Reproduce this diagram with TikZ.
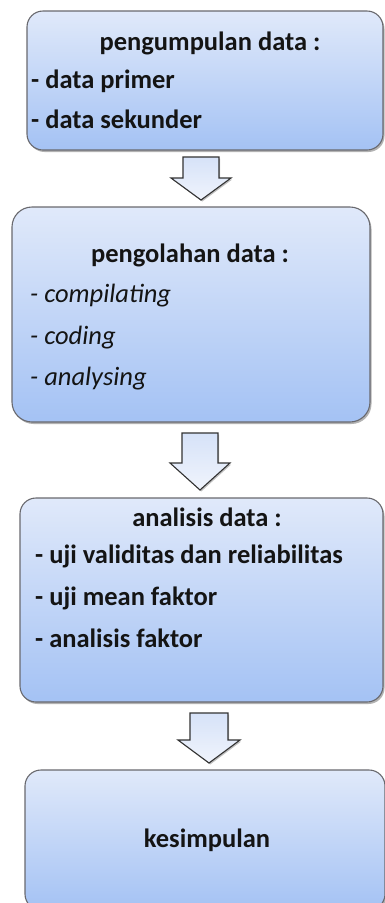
\documentclass[tikz,border=0pt]{standalone}
\usepackage{fontspec}
\setmainfont{Carlito}
\usetikzlibrary{shadows,calc}
\definecolor{boxtop}{RGB}{224,233,250}
\definecolor{boxbot}{RGB}{164,194,244}
\definecolor{boxline}{RGB}{105,105,110}
\definecolor{arrtop}{RGB}{214,226,248}
\definecolor{arrbot}{RGB}{240,244,252}
\definecolor{txt}{RGB}{20,20,20}
\tikzset{
  box/.style={rectangle, rounded corners=16pt, draw=boxline, line width=1.1pt,
    top color=boxtop, bottom color=boxbot, inner sep=0pt, outer sep=0pt,
    drop shadow={shadow xshift=1.5pt, shadow yshift=-2pt, fill=black, opacity=0.3}},
  head/.style={font=\fontsize{26.5}{30}\selectfont\bfseries, text=txt, anchor=base, inner sep=0pt},
  item/.style={font=\fontsize{26.5}{30}\selectfont\bfseries, text=txt, anchor=base west, inner sep=0pt},
  itemit/.style={font=\fontsize{26.5}{30}\selectfont\itshape, text=txt, anchor=base west, inner sep=0pt},
  blockarrow/.style={draw=black!80, line width=1.1pt, line join=miter,
    top color=arrtop, bottom color=arrbot,
    drop shadow={shadow xshift=1.2pt, shadow yshift=-1.5pt, fill=black, opacity=0.25}}
}
\newcommand{\bigarrow}[6]{% name, cx, top, base, tip, shaft half width
  \coordinate (#1) at (#2,#3);
  \path[blockarrow] ($(#1)+(-#6,0)$) -- ($(#1)+(#6,0)$) -- ($(#1)+(#6,#4-#3)$)
    -- ($(#1)+(#6+12,#4-#3)$) -- ($(#1)+(0,#5-#3)$) -- ($(#1)+(-#6-12,#4-#3)$)
    -- ($(#1)+(-#6,#4-#3)$) -- cycle;}
\begin{document}
\begin{tikzpicture}[x=1pt,y=-1pt]
\useasboundingbox (0,0) rectangle (385,903);
% boxes
\node[box, minimum width=356pt, minimum height=139pt] (b1) at (205,80.5) {};
\node[box, minimum width=358pt, minimum height=215pt, rounded corners=20pt] (b2) at (191,314.5) {};
\node[box, minimum width=363pt, minimum height=204pt] (b3) at (201.5,600) {};
\node[box, minimum width=360pt, minimum height=140pt] (b4) at (205,840) {};
% arrows
\bigarrow{a1}{201}{157}{178}{200}{18}
\bigarrow{a2}{200}{433}{463}{490}{18}
\bigarrow{a3}{209}{713}{740}{763}{19}
% texts box 1
\node[head] (h1) at (210,50) {pengumpulan data :};
\node[item] (i11) at (31,88) {- data primer};
\node[item] (i12) at (31,128) {- data sekunder};
% texts box 2
\node[head] (h2) at (190,262) {pengolahan data :};
\node[itemit] (i21) at (30,302) {- compilating};
\node[itemit] (i22) at (30,344) {- coding};
\node[itemit] (i23) at (30,385) {- analysing};
% texts box 3
\node[head] (h3) at (207,526) {analisis data :};
\node[item] (i31) at (35,563) {- uji validitas dan reliabilitas};
\node[item] (i32) at (35,605) {- uji mean faktor};
\node[item] (i33) at (35,647) {- analisis faktor};
% texts box 4
\node[head] (h4) at (207,847) {kesimpulan};
\end{tikzpicture}
\end{document}
